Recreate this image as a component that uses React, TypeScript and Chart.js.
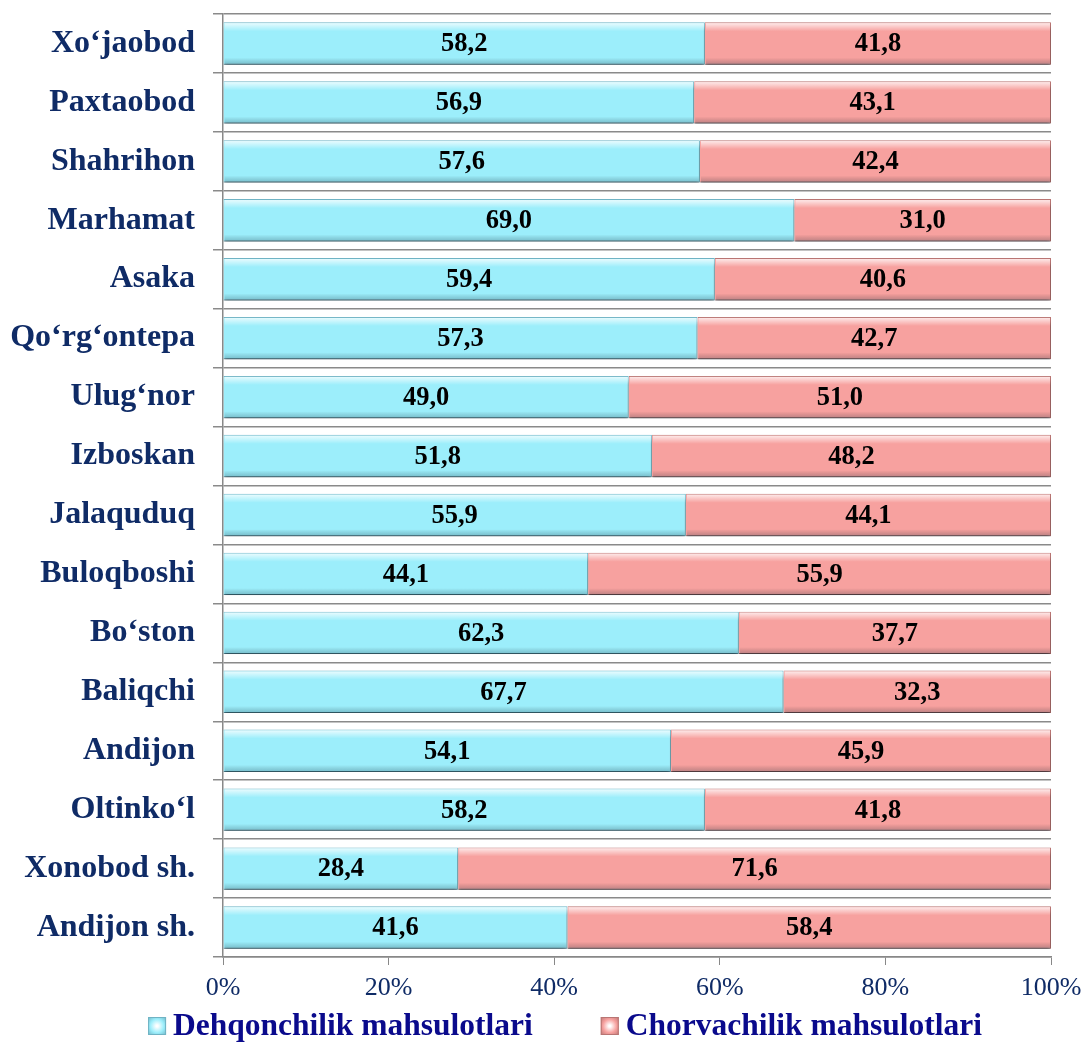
import React, { useEffect, useRef } from "react";
import { Chart, registerables, Plugin } from "chart.js";

Chart.register(...registerables);

// Districts, top to bottom as in the picture
const districts = [
  "Xo\u2018jaobod",
  "Paxtaobod",
  "Shahrihon",
  "Marhamat",
  "Asaka",
  "Qo\u2018rg\u2018ontepa",
  "Ulug\u2018nor",
  "Izboskan",
  "Jalaquduq",
  "Buloqboshi",
  "Bo\u2018ston",
  "Baliqchi",
  "Andijon",
  "Oltinko\u2018l",
  "Xonobod sh.",
  "Andijon sh.",
];

const dehqonchilik = [58.2, 56.9, 57.6, 69.0, 59.4, 57.3, 49.0, 51.8, 55.9, 44.1, 62.3, 67.7, 54.1, 58.2, 28.4, 41.6];
const chorvachilik = [41.8, 43.1, 42.4, 31.0, 40.6, 42.7, 51.0, 48.2, 44.1, 55.9, 37.7, 32.3, 45.9, 41.8, 71.6, 58.4];

const seriesNames = ["Dehqonchilik mahsulotlari", "Chorvachilik mahsulotlari"];
const xTicks = [0, 20, 40, 60, 80, 100];

const NAVY = "#0f2b66";
const LEGEND_BLUE = "#0a0a8c";
const FONT = "'Liberation Serif', 'Times New Roman', serif";
const CYAN = "#9ceefb";
const PINK = "#f7a19f";

// drop shadow under the bars
const shadowPlugin: Plugin<"bar"> = {
  id: "barShadow",
  beforeDatasetsDraw(chart) {
    const ctx = chart.ctx;
    ctx.save();
    ctx.shadowColor = "rgba(0,0,0,0.45)";
    ctx.shadowOffsetY = 5;
    ctx.shadowBlur = 4;
  },
  afterDatasetsDraw(chart) {
    chart.ctx.restore();
  },
};

// bevel-like highlight and shade on each bar
const bevelPlugin: Plugin<"bar"> = {
  id: "barBevel",
  afterDatasetsDraw(chart) {
    const ctx = chart.ctx;
    chart.data.datasets.forEach((_, di) => {
      const meta = chart.getDatasetMeta(di);
      meta.data.forEach((el: any) => {
        const { x, base, y, height } = el.getProps(["x", "base", "y", "height"], true);
        const left = Math.min(x, base);
        const right = Math.max(x, base);
        const top = y - height / 2;
        const bottom = y + height / 2;
        ctx.save();
        let g = ctx.createLinearGradient(0, top, 0, top + 9);
        g.addColorStop(0, "rgba(255,255,255,0.85)");
        g.addColorStop(1, "rgba(255,255,255,0)");
        ctx.fillStyle = g;
        ctx.fillRect(left + 1, top + 1, right - left - 2, 9);
        g = ctx.createLinearGradient(0, bottom - 7, 0, bottom);
        g.addColorStop(0, "rgba(0,0,0,0)");
        g.addColorStop(1, "rgba(0,40,60,0.25)");
        ctx.fillStyle = g;
        ctx.fillRect(left + 1, bottom - 7, right - left - 2, 7);
        ctx.restore();
      });
    });
  },
};

// value labels in the middle of each segment
const valueLabels: Plugin<"bar"> = {
  id: "valueLabels",
  afterDatasetsDraw(chart) {
    const ctx = chart.ctx;
    ctx.save();
    ctx.font = `bold 26.5px ${FONT}`;
    ctx.fillStyle = "#000";
    ctx.textAlign = "center";
    ctx.textBaseline = "middle";
    chart.data.datasets.forEach((ds, di) => {
      const meta = chart.getDatasetMeta(di);
      meta.data.forEach((el: any, i) => {
        const { x, base, y } = el.getProps(["x", "base", "y"], true);
        const v = ds.data[i] as number;
        ctx.fillText(v.toFixed(1).replace(".", ","), (x + base) / 2, y + 1);
      });
    });
    ctx.restore();
  },
};

// legend under the axis, with wider gap between the two entries than the built-in one allows
const bottomLegend: Plugin<"bar"> = {
  id: "bottomLegend",
  afterDraw(chart) {
    const ctx = chart.ctx;
    const box = 18;
    const gapText = 7;
    const gapItems = 68;
    ctx.save();
    ctx.font = `bold 31.5px ${FONT}`;
    ctx.textBaseline = "middle";
    const items = chart.data.datasets.map((ds) => ({
      text: ds.label as string,
      color: ds.backgroundColor as string,
      border: ds.borderColor as string,
      w: ctx.measureText(ds.label as string).width,
    }));
    const total = items.reduce((s, it) => s + box + gapText + it.w, 0) + gapItems * (items.length - 1);
    const cy = chart.height - 18;
    let x = 565 - total / 2;
    items.forEach((it) => {
      const by = cy - box / 2;
      const g = ctx.createRadialGradient(x + box / 2, by + box / 2, 1, x + box / 2, by + box / 2, box * 0.7);
      g.addColorStop(0, "#ffffff");
      g.addColorStop(0.5, it.color);
      g.addColorStop(1, it.border);
      ctx.fillStyle = g;
      ctx.fillRect(x, by, box, box);
      ctx.strokeStyle = it.border;
      ctx.lineWidth = 1;
      ctx.strokeRect(x + 0.5, by + 0.5, box - 1, box - 1);
      ctx.fillStyle = LEGEND_BLUE;
      ctx.fillText(it.text, x + box + gapText, cy + 1);
      x += box + gapText + it.w + gapItems;
    });
    ctx.restore();
  },
};

const App: React.FC = () => {
  const canvasRef = useRef<HTMLCanvasElement | null>(null);

  useEffect(() => {
    document.body.style.margin = "0";
    if (!canvasRef.current) return;
    const chart = new Chart(canvasRef.current, {
      type: "bar",
      data: {
        labels: districts,
        datasets: [
          {
            label: seriesNames[0],
            data: dehqonchilik,
            backgroundColor: CYAN,
            borderColor: "#6fb3c4",
            borderWidth: 1,
            barPercentage: 0.72,
            categoryPercentage: 1,
          },
          {
            label: seriesNames[1],
            data: chorvachilik,
            backgroundColor: PINK,
            borderColor: "#b97573",
            borderWidth: 1,
            barPercentage: 0.72,
            categoryPercentage: 1,
          },
        ],
      },
      options: {
        indexAxis: "y",
        animation: false,
        responsive: false,
        layout: { padding: { top: 14, right: 31, bottom: 37, left: 0 } },
        plugins: {
          tooltip: { enabled: false },
          legend: { display: false },
        },
        scales: {
          x: {
            stacked: true,
            min: 0,
            max: 100,
            afterBuildTicks: (scale) => {
              scale.ticks = xTicks.map((v) => ({ value: v }));
            },
            afterFit: (scale: any) => {
              scale.height = 50;
              scale.paddingLeft = 0;
              scale.paddingRight = 0;
            },
            grid: { drawOnChartArea: false, drawTicks: true, tickLength: 8, color: "#888" },
            border: { color: "#888", width: 1.5 },
            ticks: {
              padding: 7.5,
              color: NAVY,
              font: { family: FONT, size: 26 },
              callback: (v) => `${v}%`,
            },
          },
          y: {
            stacked: true,
            afterFit: (scale: any) => {
              scale.width = 223;
              scale.paddingTop = 0;
              scale.paddingBottom = 0;
            },
            grid: { offset: true, drawOnChartArea: true, tickLength: 10, color: "#8a8a8a", lineWidth: 1.5 },
            border: { color: "#888", width: 1.5 },
            ticks: {
              padding: 18,
              color: NAVY,
              font: { family: FONT, size: 32, weight: "bold" },
            },
          },
        },
      },
      plugins: [shadowPlugin, bevelPlugin, valueLabels, bottomLegend],
    });
    return () => chart.destroy();
  }, []);

  return (
    <div style={{ width: 1082, height: 1044, background: "#fff" }}>
      <canvas ref={canvasRef} width={1082} height={1044} />
    </div>
  );
};

export default App;
